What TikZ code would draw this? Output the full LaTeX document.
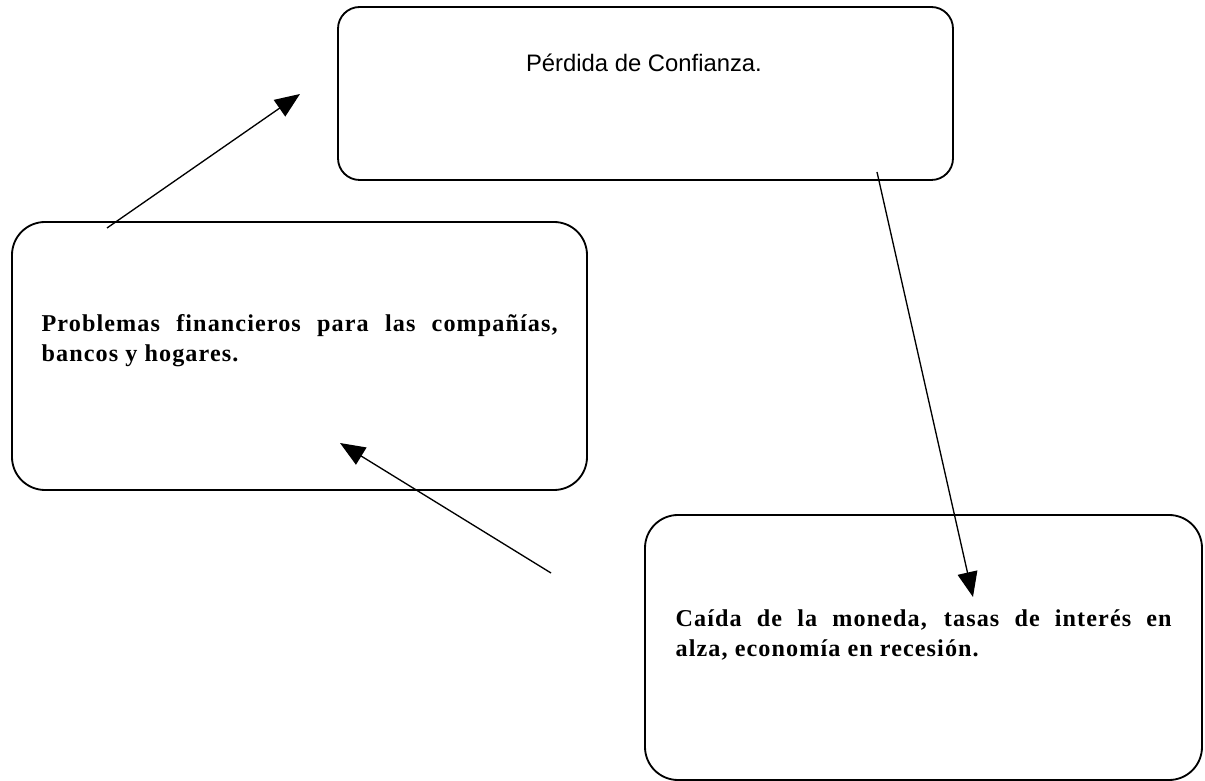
\documentclass[tikz,border=0pt]{standalone}
\usepackage{fontspec}
\setmainfont{Liberation Serif}
\newfontfamily\arialfont{Liberation Sans}
\newfontfamily\causefont[LetterSpace=4.5]{Liberation Serif}
\usetikzlibrary{arrows.meta}
\tikzstyle{every path}=[line width=0.8pt]
\tikzstyle{box}=[draw, line width=1.1pt, inner sep=0pt, outer sep=0pt]
\tikzstyle{cause}=[anchor=base west, inner sep=0pt, align=justify,
    font=\causefont\bfseries\fontsize{14.5}{18}\selectfont]
\tikzstyle{head}=[-{Triangle[length=15pt, width=12pt]}]

\begin{document}
\begin{tikzpicture}[x=0.6pt, y=-0.6pt]
            \useasboundingbox (0,0) rectangle (1205,781);

            % cajas
            \node[box, rounded corners=13pt, minimum width=369pt, minimum height=103.8pt]
                (confianza) at (645.5, 93.5) {};
            \node[box, rounded corners=19.8pt, minimum width=345pt, minimum height=160.8pt]
                (problemas) at (299.5, 356) {};
            \node[box, rounded corners=19.8pt, minimum width=334.2pt, minimum height=159pt]
                (caida) at (923.5, 647.5) {};

            % textos
            \node[anchor=base, inner sep=0pt, font=\arialfont\fontsize{14.3}{17}\selectfont]
                (confianzatxt) at (644, 72) {P\'erdida de Confianza.};
            \node[cause, text width=309.6pt] (problemastxt) at (41, 332)
                {Problemas financieros para las compa\~n\'\i as, bancos y hogares.};
            \node[cause, text width=297.6pt] (caidatxt) at (675, 627)
                {Ca\'\i da de la moneda, tasas de inter\'es en\linebreak alza, econom\'\i a en recesi\'on.};

            % flechas
            \coordinate (probtail) at (107, 228);
            \coordinate (probtip) at (300, 94);
            \coordinate (conftail) at (877, 172);
            \coordinate (conftip) at (973, 597);
            \coordinate (caidatail) at (551, 573);
            \coordinate (caidatip) at (340, 443);
            \draw[head] (probtail) -- (probtip);
            \draw[head] (conftail) -- (conftip);
            \draw[head] (caidatail) -- (caidatip);
        \end{tikzpicture}
\end{document}
